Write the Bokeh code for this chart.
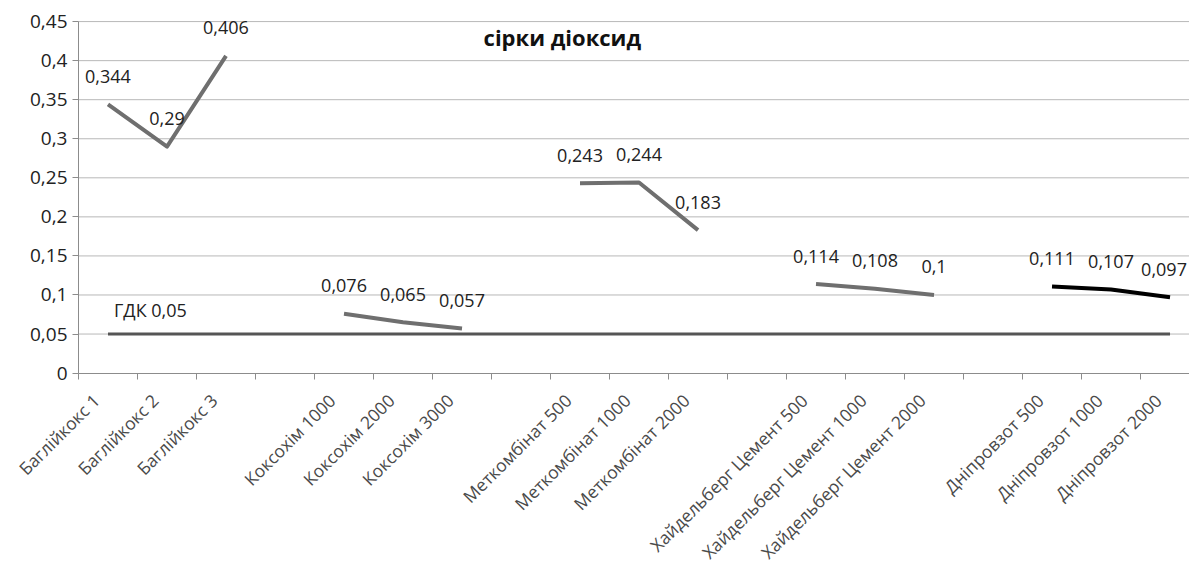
import math
from bokeh.plotting import figure
from bokeh.models import (ColumnDataSource, Range1d, FixedTicker, LabelSet, Label,
                          CustomJSTickFormatter)
from bokeh.core.properties import value
from bokeh.embed import file_html
from bokeh.resources import INLINE

# ---- data ----
categories = ["Баглійкокс 1", "Баглійкокс 2", "Баглійкокс 3", "",
              "Коксохім 1000", "Коксохім 2000", "Коксохім 3000", "",
              "Меткомбінат 500", "Меткомбінат 1000", "Меткомбінат 2000", "",
              "Хайдельберг Цемент 500", "Хайдельберг Цемент 1000", "Хайдельберг Цемент 2000", "",
              "Дніпровзот 500", "Дніпровзот 1000", "Дніпровзот 2000"]
bagliykoks = [0.344, 0.29, 0.406]
koksokhim = [0.076, 0.065, 0.057]
metkombinat = [0.243, 0.244, 0.183]
heidelberg = [0.114, 0.108, 0.1]
dniprovzot = [0.111, 0.107, 0.097]
gdk_value = 0.05
gdk_label = "ГДК 0,05"
title_text = "сірки діоксид"
y_ticks = [0, 0.05, 0.1, 0.15, 0.2, 0.25, 0.3, 0.35, 0.4, 0.45]

FONT = "Open Sans"

def fmt(v):
    return f"{v:g}".replace(".", ",")

groups = [
    (0, bagliykoks, "#6f6f6f"),
    (4, koksokhim, "#6f6f6f"),
    (8, metkombinat, "#6f6f6f"),
    (12, heidelberg, "#6f6f6f"),
    (16, dniprovzot, "#000000"),
]

n = len(categories)
x_left = -0.5          # position of the value axis (left edge of the first category)
y_top = y_ticks[-1]

# The frame covers the whole canvas so that the slanted category names and
# the value-axis labels are not clipped; axes are pinned with fixed_location.
p = figure(width=1189, height=571, output_backend="svg", toolbar_location=None,
           x_range=Range1d(-1.822, 18.33), y_range=Range1d(-0.254, 0.477),
           min_border_left=0, min_border_top=0, min_border_right=0,
           min_border_bottom=0)
p.outline_line_color = None
p.background_fill_color = "white"
p.border_fill_color = "white"
p.xgrid.grid_line_color = None
p.ygrid.grid_line_color = None

# horizontal gridlines, only across the plotting area
grid_y = [t for t in y_ticks if t > 0]
p.segment(x0=[x_left] * len(grid_y), x1=[n] * len(grid_y), y0=grid_y, y1=grid_y,
          line_color="#b8b8b8", line_width=1, level="underlay")

# y axis
p.yaxis.fixed_location = x_left
p.yaxis.bounds = (0, y_top)
p.yaxis.ticker = FixedTicker(ticks=y_ticks)
p.yaxis.formatter = CustomJSTickFormatter(code="""
    let s = tick.toFixed(2).replace(/0+$/, '').replace(/\\.$/, '');
    return s.replace('.', ',');
""")
p.yaxis.axis_line_color = "#8c8c8c"
p.yaxis.major_tick_line_color = "#8c8c8c"
p.yaxis.major_tick_out = 6
p.yaxis.major_tick_in = 0
p.yaxis.minor_tick_line_color = None
p.yaxis.major_label_text_font = FONT
p.yaxis.major_label_text_font_size = "19px"
p.yaxis.major_label_text_color = "#222222"
p.yaxis.major_label_standoff = 5

# x axis at y = 0: tick marks at category boundaries; category names drawn below
xs_all = list(range(n))
p.xaxis.fixed_location = 0
p.xaxis.bounds = (x_left, n)
p.xaxis.ticker = FixedTicker(ticks=[], minor_ticks=[i - 0.5 for i in range(n + 1)])
p.xaxis.axis_line_color = "#8c8c8c"
p.xaxis.major_tick_line_color = None
p.xaxis.minor_tick_line_color = "#8c8c8c"
p.xaxis.minor_tick_out = 6
p.xaxis.minor_tick_in = 0

cat_src = ColumnDataSource(dict(x=xs_all, y=[0] * n, t=categories))
p.add_layout(LabelSet(x="x", y="y", text="t", source=cat_src, x_offset=-12, y_offset=-24,
                      angle=math.pi / 4, text_align="right", text_baseline="middle",
                      text_font=value(FONT), text_font_size=value("17.5px"),
                      text_color=value("#4a4a4a")))

LBL = dict(text_font=value(FONT), text_font_size=value("18px"), text_color=value("#222222"))

# ГДК line
p.line(x=xs_all, y=[gdk_value] * n, line_color="#555555", line_width=3)
gdk_src = ColumnDataSource(dict(x=[0], y=[gdk_value], t=[gdk_label]))
p.add_layout(LabelSet(x="x", y="y", text="t", source=gdk_src, x_offset=6, y_offset=24,
                      text_align="left", text_baseline="middle", **LBL))

# series
for start, vals, color in groups:
    xs = [start + i for i in range(len(vals))]
    p.line(x=xs, y=vals, line_color=color, line_width=4, line_join="round")
    # nudge the label of the very last point inward so it stays inside the canvas
    dx = [-6 if x == n - 1 else 0 for x in xs]
    src = ColumnDataSource(dict(x=xs, y=vals, t=[fmt(v) for v in vals], dx=dx))
    p.add_layout(LabelSet(x="x", y="y", text="t", source=src, y_offset=28, x_offset="dx",
                          text_align="center", text_baseline="middle", **LBL))

# title inside plot area
p.add_layout(Label(x=7.7, y=0.43, text=title_text, text_align="center",
                   text_baseline="middle", text_font=FONT, text_font_size="22px",
                   text_font_style="bold", text_color="#111111"))

open("out.html", "w").write(file_html(p, INLINE))
